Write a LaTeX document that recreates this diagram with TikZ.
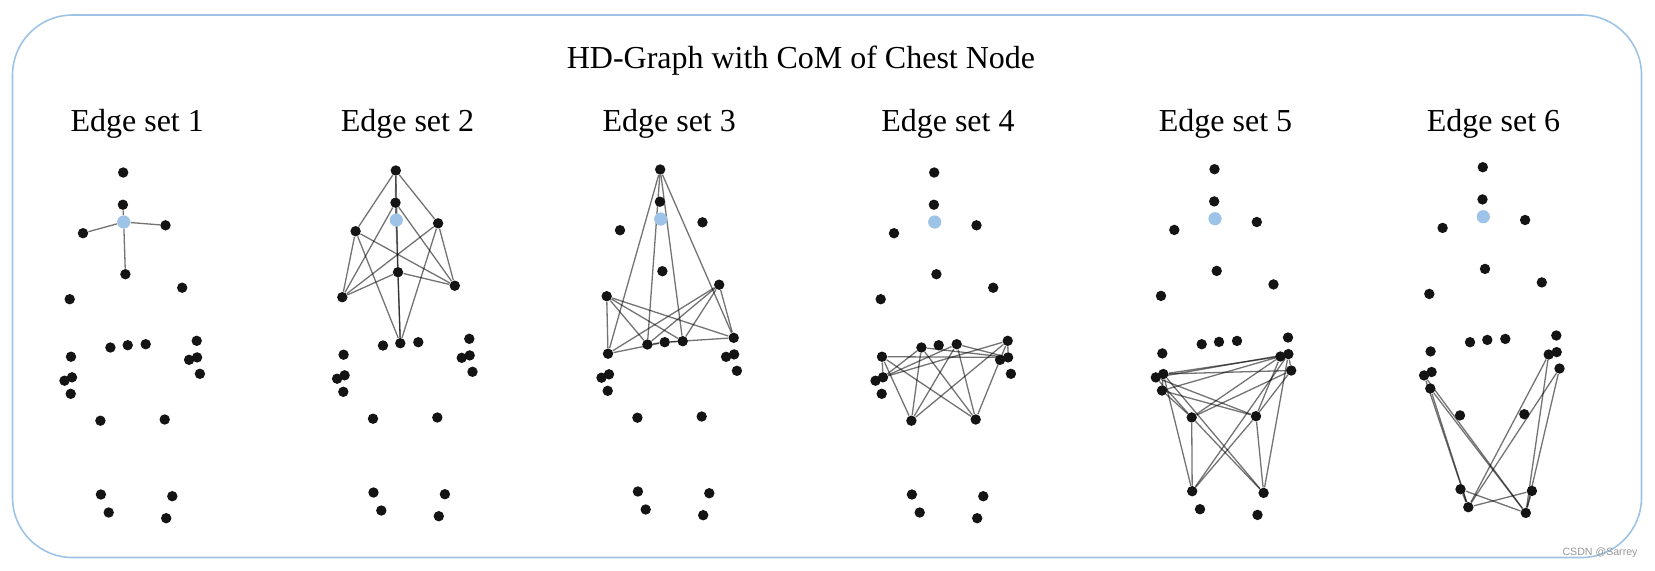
\documentclass[tikz,border=0pt]{standalone}
\usepackage{fontspec}
\setmainfont{Liberation Serif}
\newfontfamily\wmfont{Liberation Sans}
\usetikzlibrary{backgrounds}
\definecolor{frameblue}{RGB}{157,195,230}
\definecolor{comblue}{RGB}{157,195,230}
\definecolor{wmgray}{RGB}{150,150,150}
\tikzset{
  jt/.style={circle, fill=black!92, inner sep=0pt, minimum size=5.2pt},
  com/.style={circle, fill=comblue, inner sep=0pt, minimum size=6.6pt},
  edge/.style={draw=black, draw opacity=0.55, line width=0.65pt},
  lbl/.style={font=\fontsize{16}{19}\selectfont, anchor=base, inner sep=0pt},
}
\newcommand\skel[3]{%
  \begin{scope}[shift={(#2,#3)}]
    \foreach \n/\u/\v in {hd/-0.5/-49.5, nk/-0.8/-17.3, ls/-40.7/11.2, rs/41.8/3.3,
      sp/1.7/52.2, le/-54/77.2, re/58.5/65.7, hl/-13.3/125.5, hm/4/123.2, hr/22/122.2,
      lw/-52.7/134.7, lh/-51.7/155.3, lt/-59.2/158.7, lb/-53/171.8,
      rw/73/118.8, rx/65.4/137.8, rh/73.4/135.4, ry/76.2/151.8,
      kl/-23.3/198.7, kr/41/197.5, al/-22.8/272.5, ar/48.6/274.2, fl/-15/290.5, fr/42.5/296.2}
      {\node[jt] (#1-\n) at (\u,\v) {};}
    \node[com] (#1-c) at (0,0) {};
  \end{scope}}
\newcommand\bip[3]{%
  \begin{pgfonlayer}{background}
    \foreach \a in {#2}{\foreach \b in {#3}{\draw[edge] (#1-\a) -- (#1-\b);}}
  \end{pgfonlayer}}
\begin{document}
\begin{tikzpicture}[x=0.5pt, y=-0.5pt]
  \useasboundingbox (0,0) rectangle (1655,570);
  \draw[frameblue, line width=0.8pt, rounded corners=30pt] (12.5,15) rectangle (1641.5,557.5);
  \node[lbl] (title) at (801,68) {HD-Graph with CoM of Chest Node};
  \node[lbl] (l1) at (137.2,131) {Edge set 1};
  \node[lbl] (l2) at (407.4,131) {Edge set 2};
  \node[lbl] (l3) at (669.2,131) {Edge set 3};
  \node[lbl] (l4) at (947.9,131) {Edge set 4};
  \node[lbl] (l5) at (1225.5,131) {Edge set 5};
  \node[lbl] (l6) at (1493.5,131) {Edge set 6};
  \skel{A}{123.7}{222}
  \skel{B}{396.3}{220}
  \skel{C}{660.7}{219}
  \skel{D}{934.7}{222}
  \skel{E}{1215}{218.7}
  \skel{F}{1483.3}{216.7}
  \bip{A}{c}{nk,ls,rs,sp}
  \bip{B}{nk,ls,rs,sp}{hd,le,re,hm}
  \bip{C}{hd,le,re,hm}{lw,hl,hr,rw}
  \bip{D}{lw,hl,hr,rw}{lh,rh,kl,kr}
  \bip{E}{lh,rh,kl,kr}{lt,lb,rx,ry,al,ar}
  \bip{F}{lt,lb,rx,ry,al,ar}{fl,fr}
  \node[font=\wmfont\fontsize{5.3}{6}\selectfont, text=wmgray, inner sep=0pt] (wm) at (1600,553) {CSDN @Sarrey};
\end{tikzpicture}
\end{document}
